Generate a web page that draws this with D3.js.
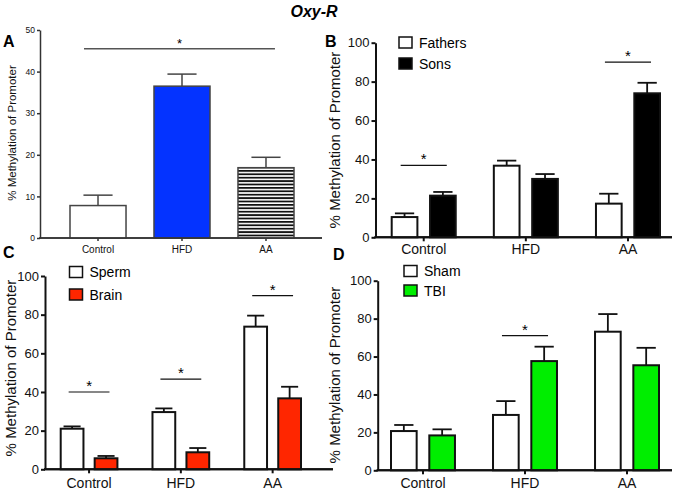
<!DOCTYPE html>
<html><head><meta charset="utf-8">
<script src="https://cdn.jsdelivr.net/npm/d3@7"></script>
<style>body{margin:0;background:#fff}svg{display:block}text{font-family:"Liberation Sans",Arial,sans-serif}</style>
</head><body>
<script>
// ---------- data ----------
const titleText = "Oxy-R";
const categories = ["Control", "HFD", "AA"];
const yLabel = "% Methylation of Promoter";
const ticksA = [0, 10, 20, 30, 40, 50];
const ticksBCD = [0, 20, 40, 60, 80, 100];

const meanA = [7.8, 36.5, 16.9];
const semA  = [2.5, 2.9, 2.5];

const seriesB = ["Fathers", "Sons"];
const fathersMean = [10.4, 36.8, 17.3];
const fathersSem  = [1.9, 2.6, 5.1];
const sonsMean    = [21.4, 30.0, 74.0];
const sonsSem     = [1.9, 2.5, 5.4];

const seriesC = ["Sperm", "Brain"];
const spermMean = [21.0, 29.6, 73.8];
const spermSem  = [1.2, 1.9, 5.7];
const brainMean = [5.7, 8.8, 36.7];
const brainSem  = [1.2, 2.2, 6.0];

const seriesD = ["Sham", "TBI"];
const shamMean = [20.7, 29.2, 73.1];
const shamSem  = [3.2, 7.3, 9.3];
const tbiMean  = [18.4, 57.6, 55.4];
const tbiSem   = [3.2, 7.6, 9.2];

const sigA = [{from: "Control", to: "AA", level: 45.5}];
const sigB = [{group: "Control", level: 37}, {group: "AA", level: 90}];
const sigC = [{group: "Control", level: 40}, {group: "HFD", level: 46.7}, {group: "AA", level: 89.8}];
const sigD = [{group: "HFD", level: 71}];

// ---------- drawing ----------
const W = 675, H = 491;
const svg = d3.select("body").append("svg").attr("width", W).attr("height", H);
const defs = svg.append("defs");
const pat = defs.append("pattern").attr("id", "stripes").attr("patternUnits", "userSpaceOnUse")
  .attr("width", 6).attr("height", 3.4);
pat.append("rect").attr("width", 6).attr("height", 3.4).attr("fill", "#fff");
pat.append("rect").attr("width", 6).attr("height", 1.8).attr("fill", "#111");

svg.append("text").attr("x", 314).attr("y", 17).attr("text-anchor", "middle")
  .attr("font-size", 16).attr("font-weight", "bold").attr("font-style", "italic").text(titleText);

function drawPanel(cfg) {
  const g = svg.append("g");
  const y = d3.scaleLinear().domain([0, cfg.yMax]).range([cfg.y0, cfg.y1]);
  const x = d3.scaleBand().domain(categories).range(cfg.xRange).paddingInner(cfg.pad).paddingOuter(0);
  const inner = d3.scaleBand().domain(cfg.series.map(s => s.name)).range([0, x.bandwidth()]).paddingInner(cfg.innerPad || 0);

  // y axis
  const ya = g.append("g").attr("transform", `translate(${cfg.ax},0)`)
    .call(d3.axisLeft(y).tickValues(cfg.ticks).tickSize(cfg.tick).tickSizeOuter(0).tickPadding(cfg.tickPad));
  ya.select(".domain").attr("stroke", cfg.axisColor).attr("stroke-width", cfg.axisW);
  ya.selectAll(".tick line").attr("stroke", cfg.axisColor).attr("stroke-width", cfg.axisW);
  ya.selectAll(".tick text").attr("font-size", cfg.tickFs).attr("fill", "#111")
    .style("font-family", '"Liberation Sans",Arial,sans-serif');

  // x axis
  g.append("line").attr("x1", cfg.ax - cfg.axisW / 2).attr("x2", cfg.xEnd).attr("y1", cfg.y0).attr("y2", cfg.y0)
    .attr("stroke", cfg.axisColor).attr("stroke-width", cfg.axisW);
  const xa = g.append("g").attr("transform", `translate(0,${cfg.y0})`)
    .call(d3.axisBottom(x).tickSize(cfg.xTick).tickSizeOuter(0).tickPadding(cfg.xPad));
  xa.select(".domain").remove();
  xa.selectAll(".tick line").attr("stroke", cfg.axisColor).attr("stroke-width", cfg.axisW);
  xa.selectAll(".tick text").attr("font-size", cfg.catFs).attr("fill", "#111")
    .style("font-family", '"Liberation Sans",Arial,sans-serif');

  // bars
  cfg.series.forEach(s => {
    const bx = c => x(c) + inner(s.name);
    const bw = inner.bandwidth();
    categories.forEach((c, i) => {
      // error bar
      const cx = bx(c) + bw / 2;
      g.append("line").attr("x1", cx).attr("x2", cx).attr("y1", y(s.mean[i])).attr("y2", y(s.mean[i] + s.sem[i]))
        .attr("stroke", cfg.errColor).attr("stroke-width", cfg.errW);
      g.append("line").attr("x1", cx - bw * cfg.cap / 2).attr("x2", cx + bw * cfg.cap / 2)
        .attr("y1", y(s.mean[i] + s.sem[i])).attr("y2", y(s.mean[i] + s.sem[i]))
        .attr("stroke", cfg.errColor).attr("stroke-width", cfg.errW);
      const fill = Array.isArray(s.fill) ? s.fill[i] : s.fill;
      g.append("rect").attr("x", bx(c)).attr("width", bw)
        .attr("y", y(s.mean[i])).attr("height", y(0) - y(s.mean[i]))
        .attr("fill", fill).attr("stroke", cfg.barStroke).attr("stroke-width", cfg.barW);
    });
  });
  // redraw baseline over bars
  g.append("line").attr("x1", cfg.ax - cfg.axisW / 2).attr("x2", cfg.xEnd).attr("y1", cfg.y0).attr("y2", cfg.y0)
    .attr("stroke", cfg.axisColor).attr("stroke-width", cfg.axisW);

  // significance
  cfg.sig.forEach(s => {
    let x1, x2;
    if (s.from) { x1 = x(s.from) + x.bandwidth() * 0.25; x2 = x(s.to) + x.bandwidth() * 0.66; }
    else { x1 = x(s.group) + x.bandwidth() * 0.14; x2 = x(s.group) + x.bandwidth() * 0.86; }
    g.append("line").attr("x1", x1).attr("x2", x2).attr("y1", y(s.level)).attr("y2", y(s.level))
      .attr("stroke", cfg.sigColor).attr("stroke-width", cfg.sigW);
    g.append("text").attr("x", (x1 + x2) / 2).attr("y", y(s.level) - cfg.starOff).attr("text-anchor", "middle")
      .attr("font-size", cfg.starFs).text("*");
  });

  // legend
  if (cfg.legend) {
    cfg.series.forEach((s, i) => {
      const ly = cfg.legend.y + i * cfg.legend.dy;
      g.append("rect").attr("x", cfg.legend.x).attr("y", ly).attr("width", 13).attr("height", 11)
        .attr("fill", s.fill).attr("stroke", "#111").attr("stroke-width", 1.5);
      g.append("text").attr("x", cfg.legend.x + 20).attr("y", ly + 10.5).attr("font-size", 14).text(s.name);
    });
  }

  // y label
  g.append("text").attr("transform", `translate(${cfg.ylx},${cfg.yly}) rotate(-90)`).attr("text-anchor", "middle")
    .attr("font-size", cfg.ylFs).attr("fill", "#111").text(yLabel);
  // panel letter
  g.append("text").attr("x", cfg.letter[1]).attr("y", cfg.letter[2]).attr("font-size", 16)
    .attr("font-weight", "bold").text(cfg.letter[0]);
}

const common = {yMax: 100, ticks: ticksBCD, tick: 4, tickPad: 2, tickFs: 13, axisColor: "#111", axisW: 2,
  xTick: 4, catFs: 14, errColor: "#111", errW: 1.8, cap: 0.75, barStroke: "#111", barW: 2,
  sigColor: "#111", sigW: 1.2, starOff: 1, starFs: 15, ylFs: 15, innerPad: 0.33};

drawPanel({yMax: 50, ticks: ticksA, y0: 238, y1: 30, ax: 40, xEnd: 322, xRange: [70, 294], pad: 0.333,
  tick: 3, tickPad: 2, tickFs: 8.5, axisColor: "#333", axisW: 1.5, xTick: 3, xPad: 4.9, catFs: 10,
  errColor: "#444", errW: 1.5, cap: 0.52, barStroke: "#444", barW: 1.5, sigColor: "#555", sigW: 1.5,
  starOff: 1, starFs: 13, ylFs: 11.5, ylx: 15.5, yly: 133,
  series: [{name: "A", mean: meanA, sem: semA, fill: ["#ffffff", "#0433FF", "url(#stripes)"]}],
  sig: sigA, legend: null, letter: ["A", 3, 47]});

drawPanel(Object.assign({}, common, {y0: 237.3, y1: 42.7, ax: 375.5, xEnd: 672, xRange: [391.7, 660], pad: 0.373,
  xPad: 2.8, ylx: 340, yly: 140,
  series: [{name: seriesB[0], mean: fathersMean, sem: fathersSem, fill: "#ffffff"},
           {name: seriesB[1], mean: sonsMean, sem: sonsSem, fill: "#000000"}],
  sig: sigB, legend: {x: 399, y: 37, dy: 21}, letter: ["B", 325, 47]}));

drawPanel(Object.assign({}, common, {y0: 469.3, y1: 276, ax: 45, xEnd: 333, xRange: [60.7, 301], pad: 0.382,
  xPad: 4.8, ylx: 16, yly: 368,
  series: [{name: seriesC[0], mean: spermMean, sem: spermSem, fill: "#ffffff"},
           {name: seriesC[1], mean: brainMean, sem: brainSem, fill: "#FF2600"}],
  sig: sigC, legend: {x: 69.5, y: 266.5, dy: 22.5}, letter: ["C", 3, 258]}));

drawPanel(Object.assign({}, common, {y0: 470.3, y1: 280.7, ax: 377.7, xEnd: 672, xRange: [391, 659], pad: 0.373,
  xPad: 3.8, ylx: 340, yly: 375,
  series: [{name: seriesD[0], mean: shamMean, sem: shamSem, fill: "#ffffff"},
           {name: seriesD[1], mean: tbiMean, sem: tbiSem, fill: "#00EE00"}],
  sig: sigD, legend: {x: 404, y: 265.5, dy: 19.5}, letter: ["D", 333, 260]}));
</script>
</body></html>
